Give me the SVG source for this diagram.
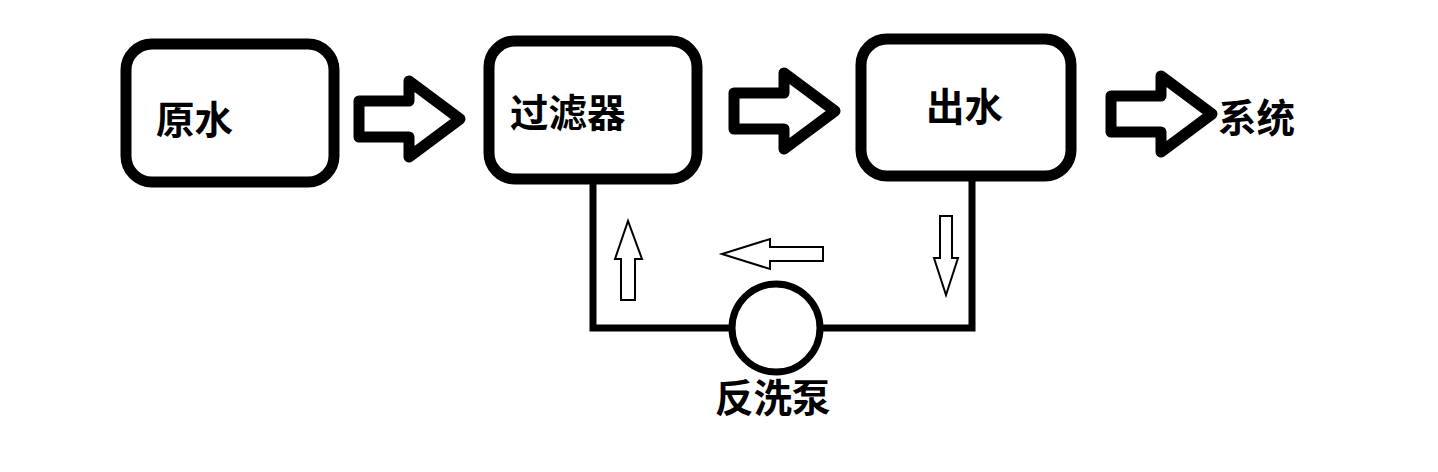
<svg xmlns="http://www.w3.org/2000/svg" xmlns:xlink="http://www.w3.org/1999/xlink" width="1438" height="472" viewBox="0 0 1438 472">
<style>
.box{fill:#fff;stroke:#000;stroke-width:11}
.big{fill:#fff;stroke:#000;stroke-width:11;stroke-linejoin:round}
.pipe{fill:none;stroke:#000;stroke-width:7}
.thin{fill:#fff;stroke:#000;stroke-width:2}
.lbl{font-family:"Noto Sans CJK SC","Noto Sans CJK JP",sans-serif;font-weight:bold;font-size:38.5px;fill:#000}
</style>
<defs>
<path id="bigArrow" d="M0,26 L50,26 L50,6 L101,44 L50,82 L50,62 L0,62 Z"/>
</defs>
<rect width="1438" height="472" fill="#fff"/>
<g id="connectors">
<use xlink:href="#bigArrow" class="big" x="359" y="75"/>
<use xlink:href="#bigArrow" class="big" x="734" y="67"/>
<use xlink:href="#bigArrow" class="big" x="1111" y="70"/>
<path class="pipe" d="M593,183 L593,328 L732,328 M820,328 L972,328 L972,180"/>
<path class="thin" d="M621,300 L635,300 L635,259 L642,259 L628,221 L615,259 L621,259 Z"/>
<path class="thin" d="M823,247 L770,247 L770,239 L722,254 L770,269 L770,261 L823,261 Z"/>
<path class="thin" d="M940,216 L952,216 L952,258 L958,258 L946,295 L934,258 L940,258 Z"/>
</g>
<g id="n-raw">
<rect class="box" x="126" y="44" width="208" height="138" rx="26"/>
<text class="lbl" x="156" y="134">原水</text>
</g>
<g id="n-filter">
<rect class="box" x="489" y="41" width="208" height="138" rx="26"/>
<text class="lbl" x="510" y="127">过滤器</text>
</g>
<g id="n-out">
<rect class="box" x="861" y="39" width="210" height="137" rx="26"/>
<text class="lbl" x="926" y="121">出水</text>
</g>
<g id="n-system">
<text class="lbl" x="1218" y="132">系统</text>
</g>
<g id="n-pump">
<circle cx="776" cy="328" r="44" fill="#fff" stroke="#000" stroke-width="7"/>
<text class="lbl" x="715" y="412">反洗泵</text>
</g>
</svg>
